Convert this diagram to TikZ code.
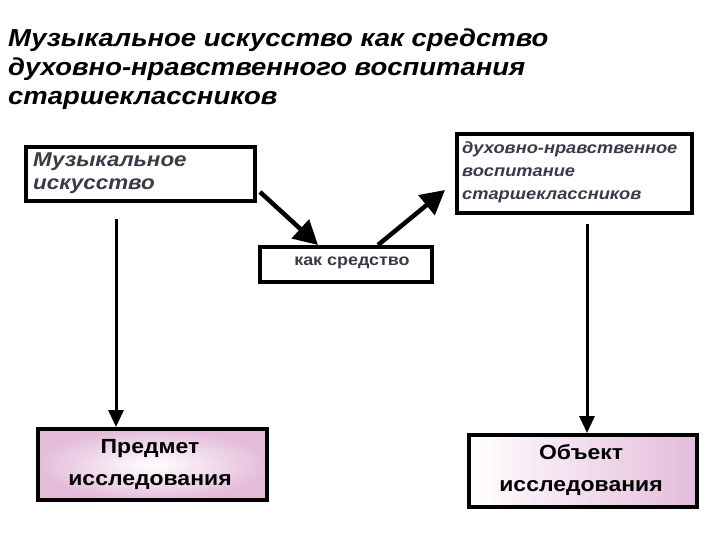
\documentclass[tikz,border=0pt]{standalone}
\usepackage{fontspec}
\setmainfont{Liberation Sans}
\newfontfamily\widefont[FakeStretch=1.12]{Liberation Sans}
\usetikzlibrary{arrows.meta}
\definecolor{boxtext}{HTML}{3A3A48}
\definecolor{rosy}{HTML}{E4BCDA}
\begin{document}
\begin{tikzpicture}[
        x=1pt, y=-1pt,
        box_style/.style={draw=black, line width=4pt, rectangle, inner sep=0pt, fill=white},
        top_text/.style={font=\widefont\bfseries\itshape\fontsize{#1}{23}\selectfont, text=boxtext, align=left, anchor=north west, inner sep=0pt},
        mid_text/.style={font=\widefont\bfseries\fontsize{16}{20}\selectfont, text=boxtext, inner sep=0pt},
        goal_text/.style={font=\widefont\bfseries\fontsize{20.5}{32}\selectfont, align=center, inner sep=0pt},
        big_arrow/.style={line width=4.5pt, -{Triangle[length=24pt, width=25pt]}},
        down_arrow/.style={line width=3pt, -{Triangle[length=17pt, width=15pt]}}
    ]
        \useasboundingbox (0,0) rectangle (720,540);

        % Title
        \node[anchor=north west, inner sep=0pt, align=left,
              font=\widefont\bfseries\itshape\fontsize{24.5}{29}\selectfont] (title) at (8,29)
              {Музыкальное искусство как средство\\духовно-нравственного воспитания\\старшеклассников};

        % Boxes
        \node[box_style, minimum width=229pt, minimum height=54pt, anchor=north west] (music) at (24,145) {};
        \node[top_text=20] (music_txt) at (33,153) {Музыкальное\\искусство};

        \node[box_style, minimum width=172pt, minimum height=35pt, anchor=north west] (means) at (258,245) {};
        \node[mid_text] (means_txt) at (352,263) {как средство};

        \node[box_style, minimum width=235pt, minimum height=79pt, anchor=north west] (upbring) at (455,132) {};
        \node[top_text=16.3] (upbring_txt) at (462,141) {духовно-нравственное\\воспитание\\старшеклассников};

        \node[box_style, minimum width=229pt, minimum height=71pt, anchor=north west,
              inner color=white, outer color=rosy] (subject) at (36,427) {};
        \node[goal_text] (subject_txt) at (150,464) {Предмет\\исследования};

        \node[box_style, minimum width=228pt, minimum height=72pt, anchor=north west,
              left color=white, right color=rosy] (object) at (467,433) {};
        \node[goal_text] (object_txt) at (581,470) {Объект\\исследования};

        % Free ends of connectors
        \coordinate (music_out) at (260,192);
        \coordinate (means_in) at (318,245);
        \coordinate (means_out) at (378,245);
        \coordinate (upbring_in) at (445,190);
        \coordinate (music_down) at (116,219);
        \coordinate (upbring_down) at (587,224);

        % Connectors
        \draw[big_arrow] (music_out) -- (means_in);
        \draw[big_arrow] (means_out) -- (upbring_in);
        \draw[down_arrow] (music_down) -- (116,427) coordinate (subject_in);
        \draw[down_arrow] (upbring_down) -- (587,433) coordinate (object_in);
    \end{tikzpicture}
\end{document}
